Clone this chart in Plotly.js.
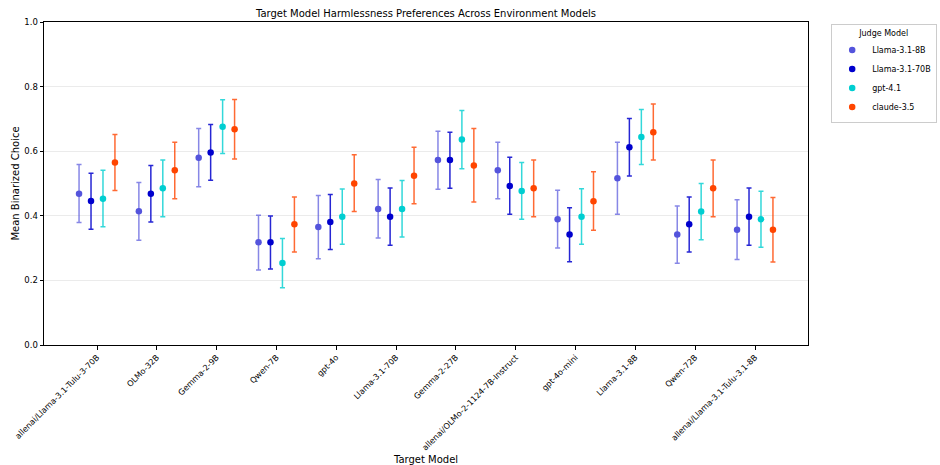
<!DOCTYPE html>
<html>
<head>
<meta charset="utf-8">
<script src="https://cdn.plot.ly/plotly-3.0.1.min.js"></script>
<style>body{margin:0;padding:0;background:#fff;}#chart{width:940px;height:465px;}</style>
</head>
<body>
<div id="chart"></div>
<script>
const targetModels = ["allenai/Llama-3.1-Tulu-3-70B","OLMo-32B","Gemma-2-9B","Qwen-7B","gpt-4o","Llama-3.1-70B","Gemma-2-27B","allenai/OLMo-2-1124-7B-Instruct","gpt-4o-mini","Llama-3.1-8B","Qwen-72B","allenai/Llama-3.1-Tulu-3.1-8B"];
const judgeModels = ["Llama-3.1-8B","Llama-3.1-70B","gpt-4.1","claude-3.5"];

const meanLlama8B  = [0.468,0.414,0.580,0.318,0.365,0.421,0.573,0.541,0.389,0.516,0.342,0.357];
const upLlama8B    = [0.559,0.503,0.670,0.402,0.463,0.512,0.662,0.628,0.479,0.628,0.430,0.450];
const lowLlama8B   = [0.379,0.324,0.490,0.232,0.267,0.331,0.482,0.453,0.300,0.405,0.253,0.265];

const meanLlama70B = [0.446,0.468,0.596,0.318,0.381,0.397,0.573,0.492,0.342,0.612,0.374,0.397];
const upLlama70B   = [0.532,0.556,0.683,0.399,0.466,0.486,0.659,0.581,0.425,0.701,0.458,0.486];
const lowLlama70B  = [0.358,0.381,0.510,0.235,0.296,0.309,0.485,0.405,0.258,0.523,0.288,0.309];

const meanGpt41    = [0.453,0.485,0.676,0.254,0.397,0.421,0.636,0.477,0.397,0.644,0.413,0.389];
const upGpt41      = [0.541,0.573,0.759,0.330,0.483,0.509,0.726,0.565,0.484,0.729,0.500,0.476];
const lowGpt41     = [0.366,0.397,0.593,0.177,0.312,0.334,0.546,0.389,0.312,0.559,0.326,0.303];

const meanClaude   = [0.565,0.541,0.668,0.374,0.500,0.524,0.556,0.485,0.445,0.659,0.485,0.357];
const upClaude     = [0.652,0.628,0.760,0.458,0.589,0.612,0.670,0.573,0.536,0.746,0.573,0.457];
const lowClaude    = [0.478,0.453,0.576,0.288,0.413,0.437,0.443,0.397,0.355,0.573,0.397,0.257];

const yTickVals = [0.0,0.2,0.4,0.6,0.8,1.0];

const series = [
  {name: judgeModels[0], mean: meanLlama8B, up: upLlama8B, low: lowLlama8B, color: "#5454dc", ecolor: "rgba(84,84,220,0.7)"},
  {name: judgeModels[1], mean: meanLlama70B, up: upLlama70B, low: lowLlama70B, color: "#0000cd", ecolor: "rgba(0,0,205,0.85)"},
  {name: judgeModels[2], mean: meanGpt41, up: upGpt41, low: lowGpt41, color: "#00ced1", ecolor: "rgba(0,206,209,0.8)"},
  {name: judgeModels[3], mean: meanClaude, up: upClaude, low: lowClaude, color: "#ff4500", ecolor: "rgba(255,69,0,0.8)"}
];
const offsets = [-0.3,-0.1,0.1,0.3];

const traces = series.map((s, k) => ({
  type: "scatter",
  mode: "markers",
  name: s.name,
  x: targetModels.map((_, i) => i + offsets[k]),
  y: s.mean,
  marker: {color: s.color, size: 6.5},
  error_y: {
    type: "data", symmetric: false,
    array: s.up.map((u, i) => u - s.mean[i]),
    arrayminus: s.low.map((l, i) => s.mean[i] - l),
    color: s.ecolor, thickness: 1.5, width: 2.5
  },
  text: targetModels,
  hovertemplate: "%{text}: %{y:.3f}<extra>" + s.name + "</extra>"
}));

const layout = {
  width: 940, height: 465,
  margin: {l: 44, r: 132, t: 22, b: 120},
  paper_bgcolor: "#fff", plot_bgcolor: "#fff",
  font: {family: "DejaVu Sans, sans-serif", size: 9, color: "#000"},
  title: {text: "Target Model Harmlessness Preferences Across Environment Models", font: {size: 10}, x: 0.5, xanchor: "center", xref: "paper", y: 0.972, yanchor: "middle"},
  xaxis: {
    range: [-0.886, 11.886],
    tickvals: targetModels.map((_, i) => i),
    ticktext: targetModels,
    tickangle: -45,
    ticks: "outside", ticklen: 3.5, tickcolor: "#000",
    showgrid: false, zeroline: false,
    showline: true, linecolor: "#000", linewidth: 1, mirror: true,
    tickfont: {size: 8.1},
    automargin: false,
    title: {text: "Target Model", font: {size: 10}, standoff: 4}
  },
  yaxis: {
    range: [0, 1],
    tickvals: yTickVals,
    ticktext: yTickVals.map(v => v.toFixed(1)),
    ticks: "outside", ticklen: 3.5, tickcolor: "#000",
    showgrid: true, gridcolor: "rgba(0,0,0,0.08)", gridwidth: 1,
    zeroline: false,
    showline: true, linecolor: "#000", linewidth: 1, mirror: true,
    tickfont: {size: 8.5},
    automargin: false,
    title: {text: "Mean Binarized Choice", font: {size: 10}, standoff: 2}
  },
  legend: {
    xref: "container", yref: "container",
    x: 0.997, xanchor: "right", y: 0.948, yanchor: "top",
    bordercolor: "#ccc", borderwidth: 1,
    font: {size: 8},
    itemwidth: 30,
    title: {text: "Judge Model", font: {size: 8}, side: "top center"},
    tracegroupgap: 0
  },
  showlegend: true
};

Plotly.newPlot("chart", traces, layout, {displayModeBar: false, staticPlot: true});
</script>
</body>
</html>
